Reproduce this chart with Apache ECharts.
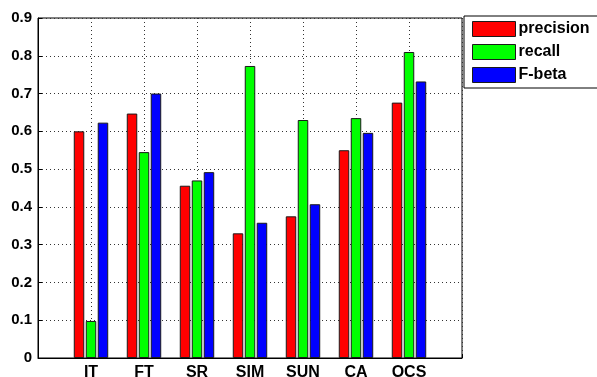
<!DOCTYPE html>
<html>
<head>
<meta charset="utf-8">
<script src="https://cdn.jsdelivr.net/npm/echarts@6/dist/echarts.min.js"></script>
<style>
  html, body { margin: 0; padding: 0; background: #fff; }
  #chart { width: 597px; height: 377px; }
</style>
</head>
<body>
<div id="chart"></div>
<script>
// Methods compared
const categories = ['IT', 'FT', 'SR', 'SIM', 'SUN', 'CA', 'OCS'];
// Scores per method
const precision = [0.60, 0.647, 0.456, 0.330, 0.375, 0.550, 0.676];
const recall    = [0.098, 0.545, 0.470, 0.773, 0.630, 0.635, 0.810];
const fbeta     = [0.623, 0.700, 0.492, 0.358, 0.407, 0.596, 0.732];
// Y tick range
const yMin = 0, yMax = 0.9, yStep = 0.1;

// Pad the axis with an empty slot at each end so groups sit on ticks 1..7 of 0..8
const axisCats = [''].concat(categories, ['']);
const pad = arr => [null].concat(arr, [null]);

const font = 'Liberation Sans, Arial, sans-serif';
const chart = echarts.init(document.getElementById('chart'));

function barSeries(name, data, color) {
  return {
    name: name,
    type: 'bar',
    data: pad(data),
    barWidth: 10.5,
    barGap: '14%',
    itemStyle: { color: color, borderColor: '#1a1a1a', borderWidth: 1 },
    emphasis: { disabled: true },
    animation: false
  };
}

chart.setOption({
  animation: false,
  grid: {
    left: 38, top: 18, right: 135, bottom: 19,
    outerBoundsMode: 'none',
    containLabel: false,
    show: true, borderColor: '#000', borderWidth: 1, backgroundColor: '#fff'
  },
  legend: {
    left: 464, top: 16,
    orient: 'vertical',
    padding: [5, 8, 5, 8],
    itemWidth: 43, itemHeight: 15, itemGap: 7,
    borderColor: '#000', borderWidth: 1, backgroundColor: '#fff',
    borderRadius: 0,
    icon: 'rect',
    itemStyle: { borderColor: '#1a1a1a', borderWidth: 1 },
    textStyle: { fontFamily: font, fontWeight: 'bold', fontSize: 16, color: '#000', padding: [0, 0, 0, -2] },
    selectedMode: false,
    data: ['precision', 'recall', 'F-beta']
  },
  xAxis: {
    type: 'category',
    data: axisCats,
    boundaryGap: false,
    axisLine: { lineStyle: { color: '#000', width: 1 } },
    axisTick: { inside: true, length: 4, lineStyle: { color: '#000' } },
    axisLabel: { fontFamily: font, fontWeight: 'bold', fontSize: 16, color: '#000', margin: 7, interval: 0 },
    splitLine: { show: true, lineStyle: { color: '#333', type: [1, 3], width: 1 } }
  },
  yAxis: {
    type: 'value',
    min: yMin, max: yMax, interval: yStep,
    axisLine: { show: true, lineStyle: { color: '#000', width: 1 } },
    axisTick: { show: true, inside: true, length: 4, lineStyle: { color: '#000' } },
    axisLabel: {
      fontFamily: font, fontWeight: 'bold', fontSize: 15, color: '#000', margin: 6,
      formatter: v => (Math.round(v * 10) / 10).toString()
    },
    splitLine: { show: true, lineStyle: { color: '#333', type: [1, 3], width: 1 } }
  },
  series: [
    barSeries('precision', precision, '#ff0000'),
    barSeries('recall', recall, '#00ff00'),
    barSeries('F-beta', fbeta, '#0000ff')
  ]
});
</script>
</body>
</html>
